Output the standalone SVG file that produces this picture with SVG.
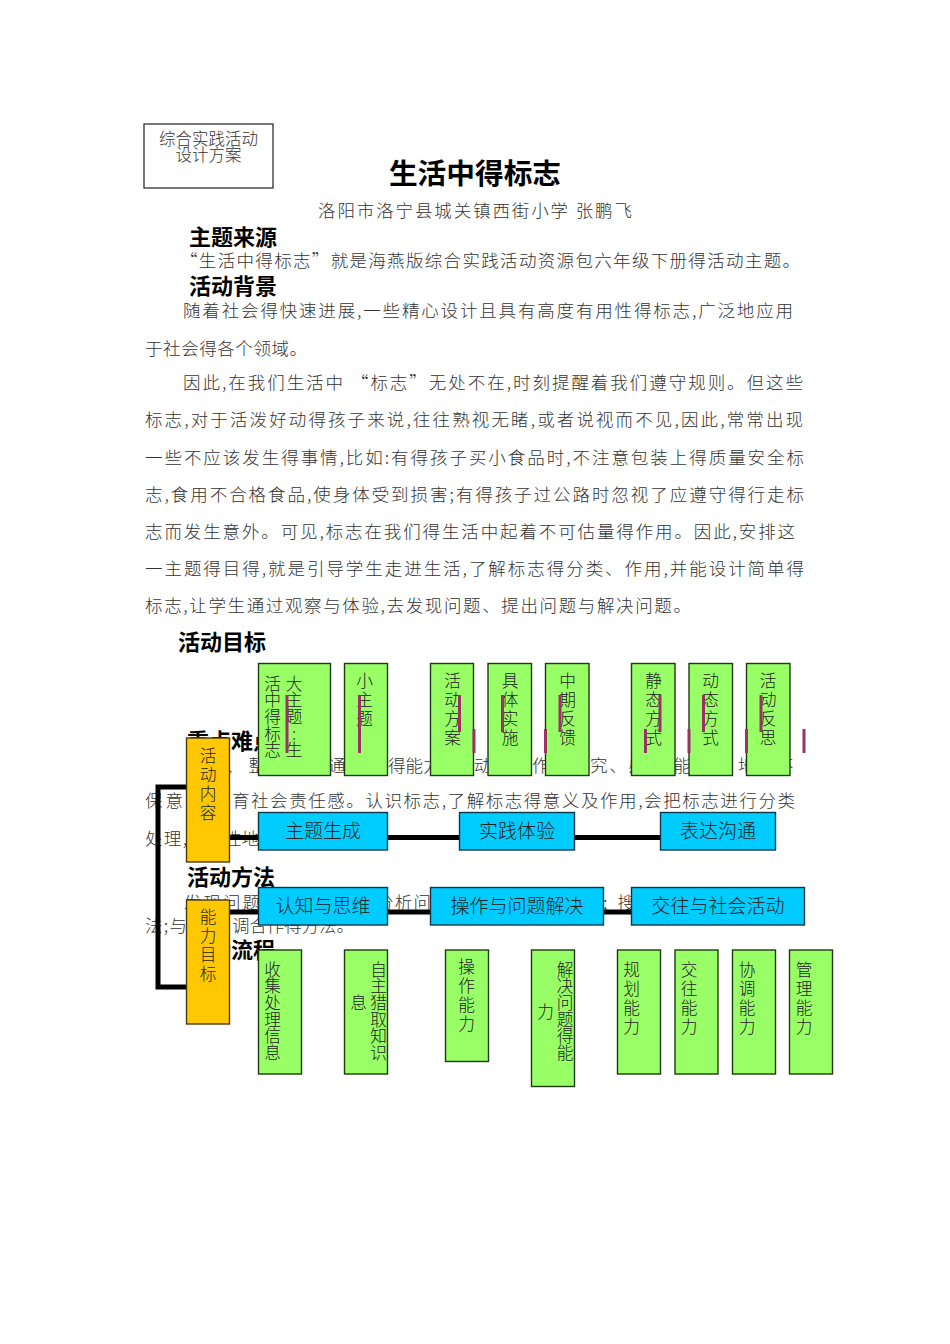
<svg xmlns="http://www.w3.org/2000/svg" width="950" height="1344" viewBox="0 0 950 1344">
<style>
text{font-family:"Noto Sans CJK SC","Liberation Serif",sans-serif}
.b{font-size:17.5px;fill:#333;font-weight:300}
.h{font-size:22px;font-weight:700;fill:#000}
.g{fill:#99ff66;stroke:#1f3a12;stroke-width:1.4}
.o{fill:#ffc800;stroke:#4a3a10;stroke-width:1.4}
.c{fill:#00ccff;stroke:#0a3a4a;stroke-width:1.4}
.v{writing-mode:vertical-rl;text-orientation:upright;font-size:16.7px;fill:#222;font-weight:300}
.w{letter-spacing:2.5px}
.t{font-size:19px;fill:#222;text-anchor:middle;font-weight:300}
.k{stroke:#000;stroke-width:5;fill:none}
.m{stroke:#993366;stroke-width:3;fill:none}
</style>
<g id="page-text">
<text x="475" y="184" text-anchor="middle" style="font-size:28.700px;font-weight:700">生活中得标志</text>
<text class="b" x="318" y="217" textLength="314">洛阳市洛宁县城关镇西街小学  张鹏飞</text>
<text class="h" x="189" y="245">主题来源</text>
<text class="b" x="180" y="267" textLength="620">“生活中得标志”就是海燕版综合实践活动资源包六年级下册得活动主题。</text>
<text class="h" x="189" y="294">活动背景</text>
<text class="b" x="183" y="317" textLength="610">随着社会得快速进展,一些精心设计且具有高度有用性得标志,广泛地应用</text>
<text class="b" x="145" y="355" textLength="162">于社会得各个领域。</text>
<text class="b" x="183" y="389" textLength="620">因此,在我们生活中  “标志”无处不在,时刻提醒着我们遵守规则。但这些</text>
<text class="b" x="145" y="426" textLength="658">标志,对于活泼好动得孩子来说,往往熟视无睹,或者说视而不见,因此,常常出现</text>
<text class="b" x="145" y="464" textLength="659">一些不应该发生得事情,比如:有得孩子买小食品时,不注意包装上得质量安全标</text>
<text class="b" x="145" y="501" textLength="659">志,食用不合格食品,使身体受到损害;有得孩子过公路时忽视了应遵守得行走标</text>
<text class="b" x="145" y="538" textLength="650">志而发生意外。可见,标志在我们得生活中起着不可估量得作用。因此,安排这</text>
<text class="b" x="145" y="575" textLength="659">一主题得目得,就是引导学生走进生活,了解标志得分类、作用,并能设计简单得</text>
<text class="b" x="145" y="612" textLength="546">标志,让学生通过观察与体验,去发现问题、提出问题与解决问题。</text>
<text class="h" x="178" y="650">活动目标</text>
<text class="h" x="187" y="749">重点难点</text>
<text class="b" x="226" y="772" textLength="40">、整</text>
<text class="b" x="328" y="772">通</text>
<text class="b" x="388" y="772">得能力</text>
<text class="b" x="474" y="772">动</text>
<text class="b" x="532" y="772">作</text>
<text class="b" x="590" y="772" textLength="56">究、感</text>
<text class="b" x="655" y="772" textLength="36">得能</text>
<text class="b" x="738" y="772">地</text>
<text class="b" x="776" y="772">不</text>
<text class="b" x="145" y="807" textLength="38">保意</text>
<text class="b" x="232" y="807" textLength="563">育社会责任感。认识标志,了解标志得意义及作用,会把标志进行分类</text>
<text class="b" x="145" y="845" textLength="42">处理,</text>
<text class="b" x="224" y="845">性地</text>
<text class="h" x="187" y="885">活动方法</text>
<text class="b" x="184" y="909" textLength="76">发现问题</text>
<text class="b" x="376" y="909" textLength="55">分析问</text>
<text class="b" x="603" y="909" textLength="32">;搜</text>
<text class="b" x="145" y="932" textLength="42">法;与</text>
<text class="b" x="232" y="932" textLength="122">调合作得方法。</text>
<text class="h" x="187" y="958">活动流程</text>
</g>
<g id="header-box">
<rect x="144" y="124" width="129" height="64" fill="#fff" stroke="#222" stroke-width="1.2"/>
<text x="208.500" y="145" text-anchor="middle" style="font-size:16.500px;fill:#333;font-weight:300">综合实践活动</text>
<text x="208.500" y="161" text-anchor="middle" style="font-size:16.500px;fill:#333;font-weight:300">设计方案</text>
</g>
<g id="connectors">
<path class="k" d="M186 787H158V987H186"/>
<path class="k" d="M230 837.500H258M387 837.500H460M575 837.500H660"/>
<path class="k" d="M230 912H258M387 912H431M603 912H632"/>
</g>
<g id="n-huodong"><rect class="o" x="186.500" y="738" width="43" height="124"/><text class="v w" x="208" y="747">活动内容</text></g>
<g id="n-nengli"><rect class="o" x="186.500" y="900" width="43" height="124"/><text class="v w" x="208" y="908">能力目标</text></g>
<g id="n-zhuti"><rect class="g" x="258.500" y="663.500" width="72" height="112"/><text class="v" x="272.500" y="675">活中得标志</text><text class="v" x="294" y="675">大主题:生</text></g>
<g id="n-xiao"><rect class="g" x="344.500" y="663.500" width="43" height="112"/><text class="v w" x="364.500" y="672">小主题</text></g>
<g id="n-fangan"><rect class="g" x="430.500" y="663.500" width="43" height="112"/><text class="v w" x="452.500" y="672">活动方案</text></g>
<g id="n-shishi"><rect class="g" x="488" y="663.500" width="43.500" height="112"/><text class="v w" x="510" y="672">具体实施</text></g>
<g id="n-fankui"><rect class="g" x="545.500" y="663.500" width="43.500" height="112"/><text class="v w" x="567.500" y="672">中期反馈</text></g>
<g id="n-jingtai"><rect class="g" x="631.500" y="663.500" width="43.500" height="112"/><text class="v w" x="653.500" y="672">静态方式</text></g>
<g id="n-dongtai"><rect class="g" x="689" y="663.500" width="43.500" height="112"/><text class="v w" x="710.500" y="672">动态方式</text></g>
<g id="n-fansi"><rect class="g" x="746.500" y="663.500" width="43.500" height="112"/><text class="v w" x="768" y="672">活动反思</text></g>
<g id="ticks">
<path class="m" d="M287 695V753M359.500 695V753M459.500 695V732M474 729V753M502.500 695V732M545.500 729V753M560 695V732M660 695V732M645.500 729V753M703.500 695V732M689 729V753M761 695V732M746.500 729V753M804 729V753"/>
</g>
<g id="n-sheng"><rect class="c" x="258.500" y="812.500" width="129" height="37.500"/><text class="t" x="323" y="838">主题生成</text></g>
<g id="n-tiyan"><rect class="c" x="459.500" y="812.500" width="115" height="37.500"/><text class="t" x="517" y="838">实践体验</text></g>
<g id="n-goutong"><rect class="c" x="660.500" y="812.500" width="115" height="37.500"/><text class="t" x="718" y="838">表达沟通</text></g>
<g id="n-renzhi"><rect class="c" x="258.500" y="887.500" width="129" height="37.500"/><text class="t" x="323" y="912.500">认知与思维</text></g>
<g id="n-caozuo"><rect class="c" x="430.500" y="887.500" width="173" height="37.500"/><text class="t" x="517" y="912.500">操作与问题解决</text></g>
<g id="n-jiaowang"><rect class="c" x="631.500" y="887.500" width="173" height="37.500"/><text class="t" x="718" y="912.500">交往与社会活动</text></g>
<g id="n-shouji"><rect class="g" x="258.500" y="950" width="43" height="124"/><text class="v" x="272.500" y="961">收集处理信息</text></g>
<g id="n-zizhu"><rect class="g" x="344.500" y="950" width="43" height="124"/><text class="v" x="378.500" y="961">自主猎取知识</text><text class="v" x="358.500" y="994">息</text></g>
<g id="n-czneng"><rect class="g" x="445.500" y="950" width="43" height="111.500"/><text class="v w" x="466.500" y="958">操作能力</text></g>
<g id="n-jiejue"><rect class="g" x="531.500" y="950" width="43" height="136.500"/><text class="v" x="565" y="961">解决问题得能</text><text class="v" x="545.500" y="1003">力</text></g>
<g id="n-guihua"><rect class="g" x="617.500" y="950" width="43" height="124"/><text class="v w" x="631.500" y="961">规划能力</text></g>
<g id="n-jwneng"><rect class="g" x="675" y="950" width="43" height="124"/><text class="v w" x="689" y="961">交往能力</text></g>
<g id="n-xietiao"><rect class="g" x="732.500" y="950" width="43" height="124"/><text class="v w" x="747" y="961">协调能力</text></g>
<g id="n-guanli"><rect class="g" x="789.500" y="950" width="43" height="124"/><text class="v w" x="804" y="961">管理能力</text></g>
</svg>
